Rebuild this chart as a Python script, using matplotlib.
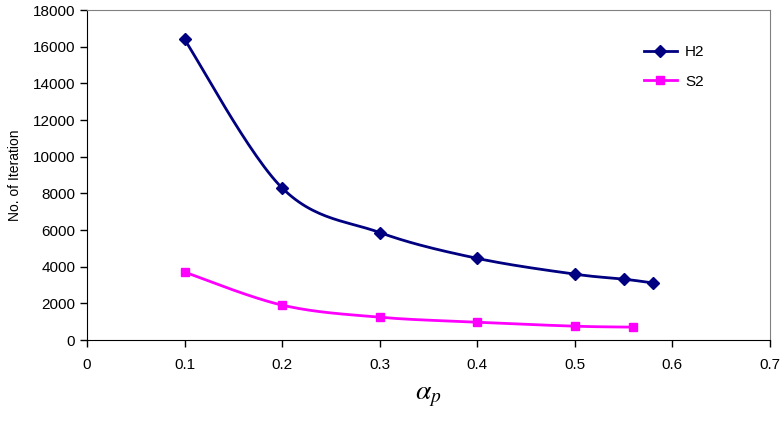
import numpy as np
import matplotlib
matplotlib.use("Agg")
import matplotlib.pyplot as plt

plt.rcParams['font.family'] = ['Liberation Sans', 'DejaVu Sans']
plt.rcParams['mathtext.fontset'] = 'stix'

h2_x = [0.1, 0.2, 0.3, 0.4, 0.5, 0.55, 0.58]
h2_y = [16400, 8300, 5870, 4460, 3600, 3330, 3120]
s2_x = [0.1, 0.2, 0.3, 0.4, 0.5, 0.56]
s2_y = [3710, 1910, 1250, 980, 760, 710]


def smooth(xs, ys, n=30):
    # Excel-like smoothed line (Catmull-Rom through the points)
    xs = np.asarray(xs, float)
    ys = np.asarray(ys, float)
    px = np.concatenate([[xs[0]], xs, [xs[-1]]])
    py = np.concatenate([[ys[0]], ys, [ys[-1]]])
    outx, outy = [], []
    t = np.linspace(0, 1, n)
    for i in range(1, len(px) - 2):
        for p, out in ((px, outx), (py, outy)):
            p0, p1, p2, p3 = p[i - 1], p[i], p[i + 1], p[i + 2]
            out.extend(0.5 * ((2 * p1) + (-p0 + p2) * t
                              + (2 * p0 - 5 * p1 + 4 * p2 - p3) * t ** 2
                              + (-p0 + 3 * p1 - 3 * p2 + p3) * t ** 3))
    return outx, outy


fig = plt.figure(figsize=(7.84, 4.22), dpi=100)
ax = fig.add_axes([0.111, 0.194, 0.871, 0.782])

navy = '#000080'
pink = '#ff00ff'

sx, sy = smooth(h2_x, h2_y)
ax.plot(sx, sy, color=navy, lw=2)
ax.plot(h2_x, h2_y, ls='none', marker='D', ms=6, color=navy)
ax.plot([], [], color=navy, lw=2, marker='D', ms=6, label='H2')

sx, sy = smooth(s2_x, s2_y)
ax.plot(sx, sy, color=pink, lw=2)
ax.plot(s2_x, s2_y, ls='none', marker='s', ms=6, color=pink)
ax.plot([], [], color=pink, lw=2, marker='s', ms=6, label='S2')

ax.set_xlim(0, 0.7)
ax.set_ylim(0, 18000)
ax.set_xticks(np.arange(0, 0.71, 0.1))
ax.set_xticklabels(['0', '0.1', '0.2', '0.3', '0.4', '0.5', '0.6', '0.7'])
ax.set_yticks(np.arange(0, 18001, 2000))
ax.tick_params(direction='out', length=5, labelsize=11, width=1)
ax.tick_params(axis='x', pad=8)

for side in ('top', 'right'):
    ax.spines[side].set_color('#808080')
for side in ('left', 'bottom'):
    ax.spines[side].set_color('black')

ax.set_ylabel('No. of Iteration', fontsize=10, labelpad=8)
ax.set_xlabel(r'$\alpha_p$', fontsize=20, labelpad=8)

ax.legend(loc='upper left', bbox_to_anchor=(0.795, 0.935), frameon=False,
          fontsize=11, handlelength=2.2, handletextpad=0.5, labelspacing=1.0)

fig.savefig('out.png', dpi=100)
